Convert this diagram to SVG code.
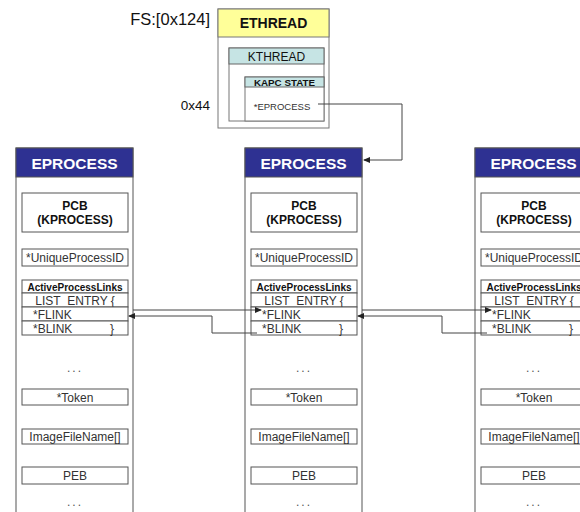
<svg xmlns="http://www.w3.org/2000/svg" width="580" height="512" viewBox="0 0 580 512">
<defs>
<style>
text{font-family:"Liberation Sans",Arial,sans-serif;}
.box{fill:#fff;stroke:#555;stroke-width:1;}
.hdr{fill:#2E3192;stroke:#555;stroke-width:1;}
.hdrt{fill:#fff;font-weight:bold;font-size:15.5px;text-anchor:middle;}
.b12{font-weight:bold;font-size:12px;text-anchor:middle;fill:#111;}
.t12{font-size:12px;fill:#333;}
.c{text-anchor:middle;}
.ap{font-weight:bold;font-size:10px;text-anchor:middle;fill:#111;}
.dots{font-size:12px;fill:#555;text-anchor:middle;letter-spacing:2px;}
.conn{fill:none;stroke:#444;stroke-width:1;}
.teal{fill:#C6E4E4;stroke:#666;stroke-width:1;}
.gbox{fill:#fff;stroke:#777;stroke-width:1;}
</style>
<marker id="arr" markerUnits="userSpaceOnUse" markerWidth="7" markerHeight="6" refX="6" refY="3" orient="auto">
<path d="M0,0 L7,3 L0,6 Z" fill="#222"/>
</marker>
<g id="eproc">
<rect class="box" x="0" y="148" width="117" height="380"/>
<rect class="hdr" x="0" y="148" width="117" height="29"/>
<text class="hdrt" x="58.5" y="169">EPROCESS</text>
<rect class="box" x="6" y="193" width="106" height="39"/>
<text class="b12" x="59" y="210">PCB</text>
<text class="b12" x="59" y="224">(KPROCESS)</text>
<rect class="box" x="6" y="249" width="106" height="17"/>
<text class="t12 c" x="59" y="262">*UniqueProcessID</text>
<rect class="box" x="6" y="280" width="106" height="13"/>
<text class="ap" x="59" y="290.5">ActiveProcessLinks</text>
<rect class="box" x="6" y="293" width="106" height="14"/>
<text class="t12 c" x="59" y="304.5">LIST_ENTRY {</text>
<rect class="box" x="6" y="307" width="106" height="14"/>
<text class="t12" x="17" y="318.5">*FLINK</text>
<rect class="box" x="6" y="321" width="106" height="14"/>
<text class="t12" x="17" y="332.5">*BLINK</text>
<text class="t12" x="94" y="332.5">}</text>
<text class="dots" x="59" y="372">...</text>
<rect class="box" x="6" y="389" width="106" height="16"/>
<text class="t12 c" x="59" y="401.5">*Token</text>
<rect class="box" x="6" y="429" width="106" height="15"/>
<text class="t12 c" x="59" y="441">ImageFileName[]</text>
<rect class="box" x="6" y="467" width="106" height="17"/>
<text class="t12 c" x="59" y="480">PEB</text>
<text class="dots" x="59" y="506">...</text>
</g>
</defs>
<rect width="580" height="512" fill="#fff"/>

<g id="labels">
<text x="210" y="25" font-size="16.5" text-anchor="end" fill="#111">FS:[0x124]</text>
<text x="210" y="110" font-size="13.5" text-anchor="end" fill="#111">0x44</text>
</g>

<g id="ethread">
<rect class="gbox" x="218" y="9" width="111" height="119"/>
<rect x="218" y="9" width="111" height="28" fill="#FFFF99" stroke="#777"/>
<text x="273.5" y="28" font-size="14" font-weight="bold" text-anchor="middle" fill="#111">ETHREAD</text>
</g>
<g id="kthread">
<rect class="gbox" x="229" y="48" width="95" height="73"/>
<rect class="teal" x="229" y="48" width="95" height="16"/>
<text x="276.5" y="61" font-size="12" text-anchor="middle" fill="#111">KTHREAD</text>
</g>
<g id="kapc">
<rect class="gbox" x="245" y="77" width="79" height="44"/>
<rect class="teal" x="245" y="77" width="79" height="10"/>
<text x="284.5" y="86" font-size="9.8" font-weight="bold" text-anchor="middle" fill="#111">KAPC STATE</text>
<text x="282" y="110" font-size="9.5" text-anchor="middle" fill="#333">*EPROCESS</text>
</g>

<g id="eprocess1"><use href="#eproc" x="16" y="0"/></g>
<g id="eprocess2"><use href="#eproc" x="245" y="0"/></g>
<g id="eprocess3"><use href="#eproc" x="475" y="0"/></g>

<g id="connectors">
<path class="conn" d="M318,104 H402 V160 H364" marker-end="url(#arr)"/>
<path class="conn" d="M133,310 H261" marker-end="url(#arr)"/>
<path class="conn" d="M257,333 H212 V316 H129" marker-end="url(#arr)"/>
<path class="conn" d="M362,310 H491" marker-end="url(#arr)"/>
<path class="conn" d="M487,333 H442 V316 H358" marker-end="url(#arr)"/>
</g>
</svg>
